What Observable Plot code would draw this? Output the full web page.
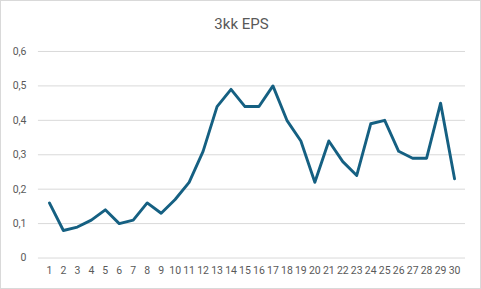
<!DOCTYPE html>
<html>
<head>
<meta charset="utf-8">
<script src="https://cdn.jsdelivr.net/npm/d3@7"></script>
<script src="https://cdn.jsdelivr.net/npm/@observablehq/plot@0.6"></script>
<style>
  html, body { margin: 0; padding: 0; background: #fff; }
  #chart { position: relative; width: 481px; height: 289px; box-sizing: border-box; border: 1px solid #d9d9d9; overflow: hidden; background: #fff; }
  #title { position: absolute; left: 0; top: 12px; width: 481px; text-align: center; font-family: Roboto, "Liberation Sans", sans-serif; font-size: 15px; color: #595959; line-height: 22px; }
  #plot { position: absolute; left: -1px; top: 39px; }
</style>
</head>
<body>
<div id="chart">
  <div id="title">3kk EPS</div>
  <div id="plot"></div>
</div>
<script>
const periods = d3.range(1, 31);
const eps = [0.16, 0.08, 0.09, 0.11, 0.14, 0.10, 0.11, 0.16, 0.13, 0.17,
             0.22, 0.31, 0.44, 0.49, 0.44, 0.44, 0.50, 0.40, 0.34, 0.22,
             0.34, 0.28, 0.24, 0.39, 0.40, 0.31, 0.29, 0.29, 0.45, 0.23];
const yTicks = [0, 0.1, 0.2, 0.3, 0.4, 0.5, 0.6];

const data = periods.map((p, i) => ({period: p, eps: eps[i]}));
const fmt = d => d === 0 ? "0" : d.toFixed(1).replace(".", ",");

const chart = Plot.plot({
  width: 481,
  height: 250,
  marginTop: 11,
  marginBottom: 32,
  marginLeft: 38,
  marginRight: 15,
  style: {fontFamily: "Roboto, 'Liberation Sans', sans-serif", fontSize: "10.5px", color: "#595959", background: "transparent"},
  x: {type: "point", domain: periods, label: null, tickSize: 0, tickPadding: 9},
  y: {domain: [0, 0.6], ticks: yTicks, tickFormat: fmt, label: null, tickSize: 0, tickPadding: 12},
  marks: [
    Plot.ruleY(yTicks, {stroke: "#d9d9d9", strokeWidth: 1}),
    Plot.line(data, {x: "period", y: "eps", stroke: "#156082", strokeWidth: 2.9, strokeLinejoin: "round", strokeLinecap: "round"})
  ]
});
document.getElementById("plot").appendChild(chart);
</script>
</body>
</html>
